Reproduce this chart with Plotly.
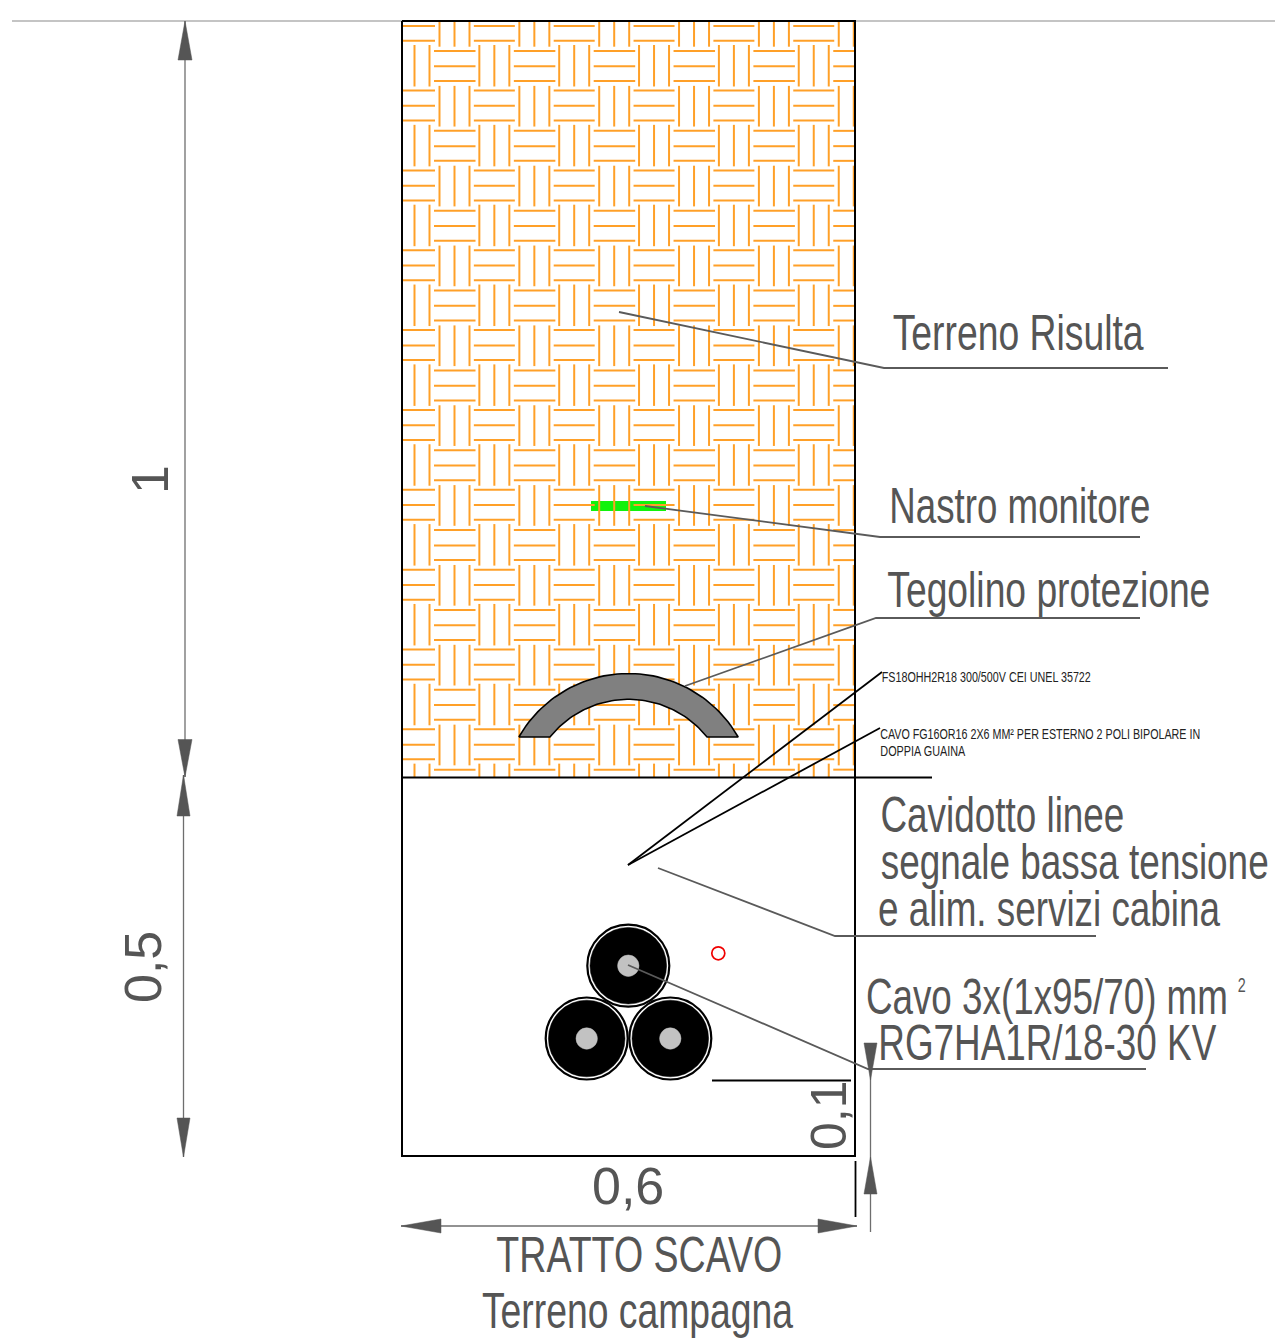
import json
import numpy as np
import plotly.graph_objects as go

# ---- Drawing geometry, in drawing units (1 unit = 1 reference pixel) ----
TRENCH_BOX = [402, 21, 855, 1156]
TAPE_BOX = [591, 501, 666, 511]

HATCH_PERIOD = 79.85
HATCH_A_Y = [10.7, 26, 40.7]
HATCH_B_Y = [51, 66.3, 81]
HATCH_C_X = [439.5, 454.5, 469.5]
HATCH_D_X = [399.5, 414.5, 429.5]

TILE_CENTRE = [628.5, 800]
TILE_OUTER = 126.5
TILE_INNER = 100.7
TILE_BASE_Y = 737

CABLE_CENTRES = [[628.3, 965.7], [586.7, 1038.5], [670.3, 1038.5]]
SMALL_RING = [718.3, 953.3, 6.5]

BLACK_LINES = [
    [[402, 855], [777.5, 777.5]],
    [[855, 932], [777.5, 777.5]],
    [[712, 851], [1080.5, 1080.5]],
    [[855.5, 855.5], [1161, 1217]],
    [[628, 882], [865, 672]],
    [[628, 880], [865, 728]],
]
GREY_LINES = [
    [[619, 884, 1168], [312, 368, 368]],
    [[645, 880, 1140], [506, 537, 537]],
    [[685, 876, 1140], [686, 618, 618]],
    [[658, 835, 1096], [868, 936, 936]],
    [[628, 868, 1146], [965, 1069, 1069]],
]
DIM_LINES = [
    [[185, 185], [21, 777]],
    [[183.5, 183.5], [775, 1157]],
    [[401, 857], [1226, 1226]],
    [[870.5, 870.5], [1043, 1232]],
]
TOP_LINE = [[12, 1275], [21, 21]]
ARROWS = [
    [[185, 178, 192], [21, 60, 60]],
    [[185, 178, 192], [777, 739.5, 739.5]],
    [[183.5, 177, 190], [775, 816, 816]],
    [[183.5, 177, 190], [1157, 1118, 1118]],
    [[401, 441, 441], [1226, 1219, 1233]],
    [[857, 818, 818], [1226, 1219, 1233]],
    [[870.5, 864, 877], [1080, 1043, 1043]],
    [[870.5, 864, 877], [1157, 1194, 1194]],
]

LABELS = ["Terreno Risulta", "Nastro monitore", "Tegolino protezione",
          "Cavidotto linee", "segnale bassa tensione", "e alim. servizi cabina",
          "Cavo 3x(1x95/70) mm", "RG7HA1R/18-30 KV", "TRATTO SCAVO", "Terreno campagna"]
LABEL_LEFT = [892, 889, 887, 880, 880, 878, 866, 878, 496, 482]
LABEL_RIGHT = [1143, 1150, 1210, 1124, 1268, 1220, 1228, 1216, 782, 793]
LABEL_Y = [333, 506, 590, 815, 862, 909, 997, 1043, 1255, 1311]
SMALL_LABELS = ["FS18OHH2R18 300/500V CEI UNEL 35722",
                "CAVO FG16OR16 2X6 MM² PER ESTERNO 2 POLI BIPOLARE IN",
                "DOPPIA GUAINA"]
SMALL_LEFT = [882, 880, 880]
SMALL_RIGHT = [1091, 1200, 965]
SMALL_Y = [677, 734, 751]
DIM_LABELS = ["1", "0,5", "0,1", "0,6"]
DIM_X = [150, 143, 829, 628]
DIM_Y = [480, 967, 1115, 1186]
DIM_ANGLE = [-90, -90, -90, 0]
DIM_SIZE = [52, 52, 50, 52]

FONT = "Liberation Sans, Arial, sans-serif"
GREY = "#555555"
ORANGE = "#FFA028"


def hatch():
    x0, y0, x1, y1 = TRENCH_BOX[0], TRENCH_BOX[1], TRENCH_BOX[2], 777
    xs, ys = [], []

    def seg(a, b, c, d):
        a, c = max(a, x0), min(c, x1)
        b, d = max(b, y0), min(d, y1)
        if a <= c and b <= d:
            xs.extend([a, c, None])
            ys.extend([b, d, None])

    p = HATCH_PERIOD
    for i in range(-1, 7):
        for j in range(-1, 11):
            for y in HATCH_A_Y:
                seg(394 + i * p, y + j * p, 435 + i * p, y + j * p)
            for y in HATCH_B_Y:
                seg(434 + i * p, y + j * p, 475.5 + i * p, y + j * p)
            for x in HATCH_C_X:
                seg(x + i * p, 6 + j * p, x + i * p, 46.7 + j * p)
            for x in HATCH_D_X:
                seg(x + i * p, 45 + j * p, x + i * p, 86.5 + j * p)
    return xs, ys


def join(parts, close=False):
    xs, ys = [], []
    for px, py in parts:
        xs += list(px) + ([px[0]] if close else []) + [None]
        ys += list(py) + ([py[0]] if close else []) + [None]
    return xs, ys


def circle(cx, cy, r, fill, line, lw):
    return dict(type="circle", xref="x", yref="y", x0=cx - r, x1=cx + r, y0=cy - r, y1=cy + r,
                fillcolor=fill, line=dict(color=line, width=lw), layer="below")


fig = go.Figure()

shapes = [dict(type="rect", xref="x", yref="y", x0=TAPE_BOX[0], x1=TAPE_BOX[2], y0=TAPE_BOX[1], y1=TAPE_BOX[3],
               fillcolor="#12F20C", line=dict(width=0), layer="below")]
for cx, cy in CABLE_CENTRES:
    shapes.append(circle(cx, cy, 41, "white", "black", 2.2))
    shapes.append(circle(cx, cy, 38.3, "black", "black", 0.5))
    shapes.append(circle(cx, cy, 10.7, "#C2C2C2", "#C2C2C2", 0.5))
shapes.append(circle(SMALL_RING[0], SMALL_RING[1], SMALL_RING[2], "white", "#F00000", 1.7))

hx, hy = hatch()
fig.add_trace(go.Scatter(x=hx, y=hy, mode="lines", line=dict(color=ORANGE, width=2), hoverinfo="skip"))

# tile
cx, cy = TILE_CENTRE
a_out = np.arccos((cy - TILE_BASE_Y) / TILE_OUTER)
a_in = np.arccos((cy - TILE_BASE_Y) / TILE_INNER)
t_out = np.linspace(-a_out, a_out, 60)
t_in = np.linspace(a_in, -a_in, 60)
tx = list(cx + TILE_OUTER * np.sin(t_out)) + list(cx + TILE_INNER * np.sin(t_in))
ty = list(cy - TILE_OUTER * np.cos(t_out)) + list(cy - TILE_INNER * np.cos(t_in))
fig.add_trace(go.Scatter(x=tx + tx[:1], y=ty + ty[:1], mode="lines", fill="toself", fillcolor="#808080",
                         line=dict(color="black", width=1.6), hoverinfo="skip"))

x, y = join([TOP_LINE])
fig.add_trace(go.Scatter(x=x, y=y, mode="lines", line=dict(color="#8a8a8a", width=1.2), hoverinfo="skip"))

bx0, by0, bx1, by1 = TRENCH_BOX
fig.add_trace(go.Scatter(x=[bx0, bx1, bx1, bx0, bx0], y=[by0, by0, by1, by1, by0], mode="lines",
                         line=dict(color="black", width=2), hoverinfo="skip"))
x, y = join(BLACK_LINES)
fig.add_trace(go.Scatter(x=x, y=y, mode="lines", line=dict(color="black", width=1.8), hoverinfo="skip"))
x, y = join(GREY_LINES)
fig.add_trace(go.Scatter(x=x, y=y, mode="lines", line=dict(color="#5a5a5a", width=1.8), hoverinfo="skip"))
x, y = join(DIM_LINES)
fig.add_trace(go.Scatter(x=x, y=y, mode="lines", line=dict(color="#6e6e6e", width=1.3), hoverinfo="skip"))
x, y = join(ARROWS, close=True)
fig.add_trace(go.Scatter(x=x, y=y, mode="lines", fill="toself", fillcolor=GREY,
                         line=dict(color=GREY, width=0.5), hoverinfo="skip"))

ann = []
fit = {}
for t, l, r, y_ in zip(LABELS, LABEL_LEFT, LABEL_RIGHT, LABEL_Y):
    ann.append(dict(text=t, x=(l + r) / 2, y=y_, xanchor="center", yanchor="middle",
                    font=dict(family=FONT, size=50, color=GREY)))
    fit[t] = r - l
ann.append(dict(text="2", x=1242, y=984, xanchor="center", yanchor="middle",
                font=dict(family=FONT, size=21, color=GREY)))
fit["2"] = 8
for t, l, r, y_ in zip(SMALL_LABELS, SMALL_LEFT, SMALL_RIGHT, SMALL_Y):
    ann.append(dict(text=t, x=(l + r) / 2, y=y_, xanchor="center", yanchor="middle",
                    font=dict(family=FONT, size=14, color="#222222")))
    fit[t] = r - l
for t, x_, y_, a, s in zip(DIM_LABELS, DIM_X, DIM_Y, DIM_ANGLE, DIM_SIZE):
    ann.append(dict(text=t, x=x_, y=y_, xanchor="center", yanchor="middle", textangle=a,
                    font=dict(family=FONT, size=s, color=GREY)))
for a in ann:
    a.update(xref="x", yref="y", showarrow=False, borderpad=0)

fig.update_layout(width=1278, height=1340, autosize=False, margin=dict(l=0, r=0, t=0, b=0, pad=0),
                  paper_bgcolor="white", plot_bgcolor="white", showlegend=False, shapes=shapes, annotations=ann,
                  xaxis=dict(range=[0, 1278], visible=False, fixedrange=True),
                  yaxis=dict(range=[1340, 0], visible=False, fixedrange=True))

# The reference lettering is condensed: squeeze the real text to its measured width.
post = """
document.body.style.margin='0';
document.documentElement.style.overflow='hidden';
var FIT = %s;
function squeeze(){
  document.querySelectorAll('.annotation-text').forEach(function(el){
    var w = FIT[el.textContent];
    if(w){ el.setAttribute('textLength', w); el.setAttribute('lengthAdjust','spacingAndGlyphs'); }
  });
}
squeeze();
setTimeout(squeeze, 50);
""" % json.dumps(fit, ensure_ascii=False)

fig.write_html("out.html", config={"displayModeBar": False}, post_script=post)
